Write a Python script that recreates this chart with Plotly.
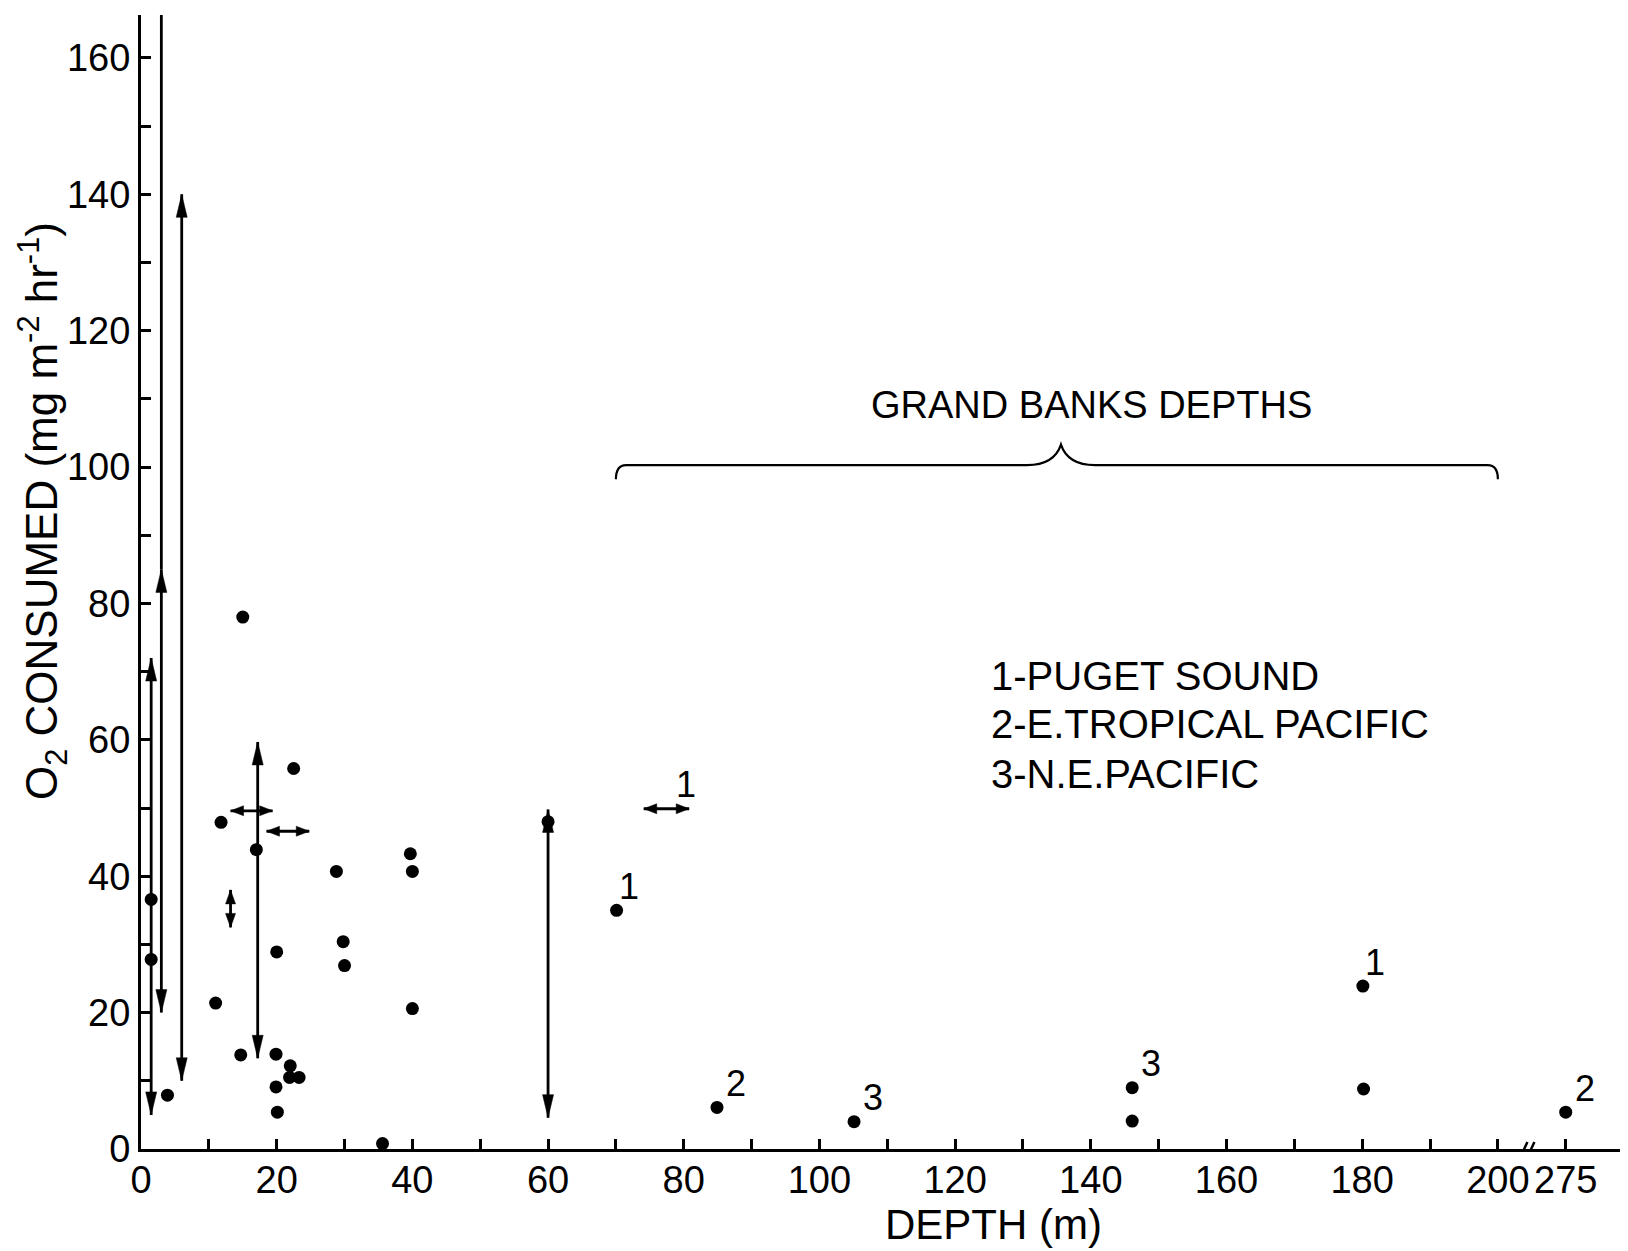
import plotly.graph_objects as go

# ---------------- data ----------------
# unlabelled observations (depth m, O2 consumed)
pt_depth = [1.5, 1.5, 3.9, 11.0, 11.8, 14.7, 15.0, 17.0, 20.0, 19.9, 19.9, 20.1,
            22.0, 21.9, 23.3, 22.5, 28.8, 29.8, 30.0, 35.6, 39.7, 40.0, 40.0, 60.0]
pt_o2 = [36.6, 27.8, 7.9, 21.4, 47.9, 13.8, 78.0, 43.9, 28.9, 13.9, 9.1, 5.4,
         12.2, 10.5, 10.5, 55.8, 40.7, 30.4, 26.9, 0.8, 43.3, 40.7, 20.6, 48.0]

# labelled observations (1 Puget Sound, 2 E. Tropical Pacific, 3 N.E. Pacific)
lab_depth = [70.1, 84.9, 105.1, 146.1, 146.1, 180.1, 180.2, 275]
lab_o2 = [35.0, 6.1, 4.0, 9.0, 4.1, 23.9, 8.8, 5.4]
lab_text = ["1", "2", "3", "3", "", "1", "", "2"]

# vertical ranges (depth, low, high)
vr_depth = [1.5, 3.0, 6.0, 13.2, 17.2, 60.0]
vr_lo = [5.0, 20.0, 10.0, 32.5, 13.3, 4.6]
vr_hi = [72.0, 85.0, 140.0, 38.0, 59.7, 49.8]

# off-scale continuation (depth, from)
off_depth = [3.0]
off_from = [85.0]

# horizontal (depth) ranges (O2, depth low, depth high)
hr_o2 = [49.6, 46.6, 49.9]
hr_lo = [13.2, 18.5, 74.1]
hr_hi = [19.4, 24.8, 80.8]
hr_text = ["", "", "1"]

# axis ticks
x_major = [0, 20, 40, 60, 80, 100, 120, 140, 160, 180, 200, 275]
x_minor = [10, 30, 50, 70, 90, 110, 130, 150, 170, 190]
y_major = [0, 20, 40, 60, 80, 100, 120, 140, 160]
y_minor = [10, 30, 50, 70, 90, 110, 130, 150]

grand_banks = [70, 200]
legend_lines = ["1-PUGET SOUND", "2-E.TROPICAL PACIFIC", "3-N.E.PACIFIC"]

# ---------------- axis break mapping ----------------
BREAK_AT = 200
BREAK_POS = 210      # where depths beyond the break are drawn
X_MAX = 218
Y_MAX = 166.3


def xpos(d):
    return d if d <= BREAK_AT else BREAK_POS


FONT = "Liberation Sans, Arial, sans-serif"
BLACK = "black"

fig = go.Figure()

# range lines
lx, ly = [], []
for d, lo, hi in zip(vr_depth, vr_lo, vr_hi):
    lx += [xpos(d), xpos(d), None]
    ly += [lo, hi, None]
for d, f in zip(off_depth, off_from):
    lx += [xpos(d), xpos(d), None]
    ly += [f, Y_MAX, None]
for o, lo, hi in zip(hr_o2, hr_lo, hr_hi):
    lx += [xpos(lo), xpos(hi), None]
    ly += [o, o, None]
fig.add_trace(go.Scatter(x=lx, y=ly, mode="lines", line=dict(color=BLACK, width=2.8),
                         hoverinfo="skip", showlegend=False))

# points
fig.add_trace(go.Scatter(x=[xpos(d) for d in pt_depth], y=pt_o2, mode="markers",
                         marker=dict(color=BLACK, size=13), showlegend=False))
fig.add_trace(go.Scatter(x=[xpos(d) for d in lab_depth], y=lab_o2, mode="markers",
                         marker=dict(color=BLACK, size=13), showlegend=False))

shapes = []
PXU_Y = 6.82


def head(x, y, path):
    shapes.append(dict(type="path", xref="x", yref="y", xsizemode="pixel",
                       ysizemode="pixel", xanchor=x, yanchor=y, path=path,
                       fillcolor=BLACK, line=dict(width=0.5, color=BLACK)))


for d, lo, hi in zip(vr_depth, vr_lo, vr_hi):
    span = (hi - lo) * PXU_Y
    L = 23 if span > 120 else 14
    w = 5.5 if span > 120 else 5
    head(xpos(d), hi, f"M0,0 L{-w},{-L} L{w},{-L} Z")
    head(xpos(d), lo, f"M0,0 L{-w},{L} L{w},{L} Z")
for o, lo, hi in zip(hr_o2, hr_lo, hr_hi):
    L = 13
    w = 5
    head(xpos(hi), o, f"M0,0 L{-L},{w} L{-L},{-w} Z")
    head(xpos(lo), o, f"M0,0 L{L},{w} L{L},{-w} Z")

# axis break marks
brk = (BREAK_AT + BREAK_POS) / 2 - 0.5
for p in ["M-7,-6 L-1,7", "M0,-6 L6,7"]:
    shapes.append(dict(type="path", xref="x", yref="y", xsizemode="pixel",
                       ysizemode="pixel", xanchor=brk, yanchor=0, path=p,
                       line=dict(color=BLACK, width=2.5)))

# Grand Banks brace
g0, g1 = grand_banks
gm = (g0 + g1) / 2 + 0.6
yb = 100.3
brace = (f"M{g0},{yb-2.1} Q{g0},{yb} {g0+1.5},{yb} L{gm-5},{yb} "
         f"Q{gm-1},{yb} {gm},{yb+3} Q{gm+1},{yb} {gm+5},{yb} "
         f"L{g1-1.5},{yb} Q{g1},{yb} {g1},{yb-2.1}")
shapes.append(dict(type="path", xref="x", yref="y", path=brace,
                   line=dict(color=BLACK, width=2.2)))

annotations = []
# labels next to points
for d, o, t in zip(lab_depth, lab_o2, lab_text):
    if t:
        annotations.append(dict(x=xpos(d), y=o, xref="x", yref="y", text=t,
                                showarrow=False, xshift=12 if t == "1" else 19,
                                yshift=24, font=dict(family=FONT, size=36, color=BLACK)))
for o, lo, hi, t in zip(hr_o2, hr_lo, hr_hi, hr_text):
    if t:
        annotations.append(dict(x=xpos(hi), y=o, xref="x", yref="y", text=t,
                                showarrow=False, xshift=-3, yshift=24,
                                font=dict(family=FONT, size=36, color=BLACK)))

annotations.append(dict(x=140.1, y=109.1, xref="x", yref="y", text="GRAND BANKS DEPTHS",
                        showarrow=False, font=dict(family=FONT, size=38, color=BLACK)))
for i, line in enumerate(legend_lines):
    annotations.append(dict(x=125, y=[69.4, 62.3, 55.0][i], xref="x", yref="y",
                            text=line, xanchor="left", showarrow=False,
                            font=dict(family=FONT, size=40, color=BLACK)))

annotations.append(dict(x=-0.067, y=0.5625, xref="paper", yref="paper",
                        xanchor="center", yanchor="middle",
                        text="O<sub>2</sub> CONSUMED (mg m<sup>-2</sup> hr<sup>-1</sup>)",
                        textangle=-90, showarrow=False,
                        font=dict(family=FONT, size=44, color=BLACK)))
annotations.append(dict(x=0.5766, y=-0.0664, xref="paper", yref="paper",
                        xanchor="center", yanchor="middle",
                        text="DEPTH (m)", showarrow=False,
                        font=dict(family=FONT, size=42, color=BLACK)))

# the page body adds an 8 px offset; margins compensate for it
fig.update_layout(
    width=1628, height=1251,
    margin=dict(l=133, r=16, t=7, b=110),
    paper_bgcolor="white", plot_bgcolor="white",
    shapes=shapes, annotations=annotations, showlegend=False,
    xaxis=dict(range=[0, X_MAX], showgrid=False, zeroline=False,
               showline=True, linecolor=BLACK, linewidth=3,
               tickmode="array", tickvals=[xpos(v) for v in x_major],
               ticktext=[str(v) for v in x_major], tickangle=0,
               ticks="inside", ticklen=10, tickwidth=2.5, tickcolor=BLACK,
               ticklabelstandoff=-5,
               minor=dict(tickmode="array", tickvals=x_minor, ticks="inside",
                          ticklen=10, tickwidth=2.5, tickcolor=BLACK),
               tickfont=dict(family=FONT, size=38, color=BLACK)),
    yaxis=dict(range=[0, Y_MAX], showgrid=False, zeroline=False,
               showline=True, linecolor=BLACK, linewidth=3,
               tickmode="array", tickvals=y_major,
               ticktext=[str(v) for v in y_major], tickangle=0,
               ticks="inside", ticklen=10, tickwidth=2.5, tickcolor=BLACK,
               ticklabelstandoff=0,
               minor=dict(tickmode="array", tickvals=y_minor, ticks="inside",
                          ticklen=10, tickwidth=2.5, tickcolor=BLACK),
               tickfont=dict(family=FONT, size=38, color=BLACK)),
)

fig.write_html("out.html")
